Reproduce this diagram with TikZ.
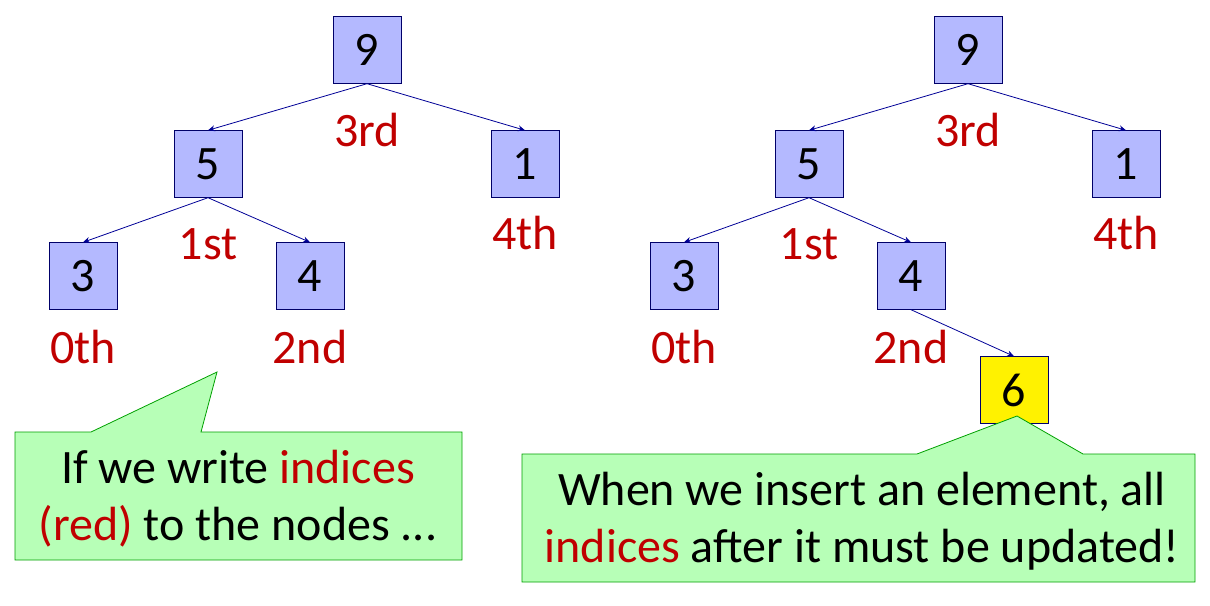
\documentclass[tikz,border=0pt]{standalone}
\usepackage{fontspec}
\setmainfont{Carlito}
\usepackage{xcolor}
\usetikzlibrary{arrows.meta}

\definecolor{boxblue}{RGB}{180,185,255}
\definecolor{edgeblue}{RGB}{0,0,150}
\definecolor{idxred}{RGB}{192,0,0}
\definecolor{notegreen}{RGB}{183,255,183}
\definecolor{noteline}{RGB}{0,160,0}

\tikzset{
  key/.style={draw=edgeblue!70!black,fill=boxblue,minimum width=68pt,minimum height=67pt,inner sep=0pt,font=\fontsize{48}{56}\selectfont},
  newkey/.style={key,fill=yellow},
  idx/.style={text=idxred,inner sep=0pt,font=\fontsize{48}{56}\selectfont},
  link/.style={draw=edgeblue,line width=0.8pt,-{Stealth[length=7pt,width=6pt]}},
  note/.style={draw=noteline,fill=notegreen,line width=0.8pt},
  notetext/.style={align=center,inner sep=0pt,font=\fontsize{48}{57}\selectfont}
}

\begin{document}
\begin{tikzpicture}[x=1pt,y=-1pt]
			\useasboundingbox (0,0) rectangle (1210,605);
			% left tree
			\node[key] (a9) at (367,50) {9};
			\node[key] (a5) at (208,164) {5};
			\node[key] (a1) at (525,164) {1};
			\node[key] (a3) at (83,276) {3};
			\node[key] (a4) at (310,276) {4};
			\draw[link] (a9.south) -- (a5.north);
			\draw[link] (a9.south) -- (a1.north);
			\draw[link] (a5.south) -- (a3.north);
			\draw[link] (a5.south) -- (a4.north);
			\node[idx] (i3a) at (367,130) {3rd};
			\node[idx] (i4a) at (525,233) {4th};
			\node[idx] (i1a) at (208,244) {1st};
			\node[idx] (i0a) at (83,347) {0th};
			\node[idx] (i2a) at (310,347) {2nd};
			% right tree
			\node[key] (b9) at (968,50) {9};
			\node[key] (b5) at (809,164) {5};
			\node[key] (b1) at (1126,164) {1};
			\node[key] (b3) at (684,276) {3};
			\node[key] (b4) at (911,276) {4};
			\node[newkey] (b6) at (1014,390) {6};
			\draw[link] (b9.south) -- (b5.north);
			\draw[link] (b9.south) -- (b1.north);
			\draw[link] (b5.south) -- (b3.north);
			\draw[link] (b5.south) -- (b4.north);
			\draw[link] (b4.south) -- (b6.north);
			\node[idx] (i3b) at (968,130) {3rd};
			\node[idx] (i4b) at (1126,233) {4th};
			\node[idx] (i1b) at (809,244) {1st};
			\node[idx] (i0b) at (684,347) {0th};
			\node[idx] (i2b) at (911,347) {2nd};
			% callouts
			\draw[note] (15,432) -- (91,432) -- (217,372) -- (201,432) -- (462,432)
				-- (462,560) -- (15,560) -- cycle;
			\node[notetext] (tl) at (238,499) {If we write \textcolor{idxred}{indices}\\\textcolor{idxred}{(red)} to the nodes ...};
			\draw[note] (522,454) -- (917,454) -- (1017,416) -- (1083,454) -- (1195,454)
				-- (1195,582) -- (522,582) -- cycle;
			\node[notetext] (tr) at (862,521) {When we insert an element, all\\\textcolor{idxred}{indices} after it must be updated!};
		\end{tikzpicture}
\end{document}
